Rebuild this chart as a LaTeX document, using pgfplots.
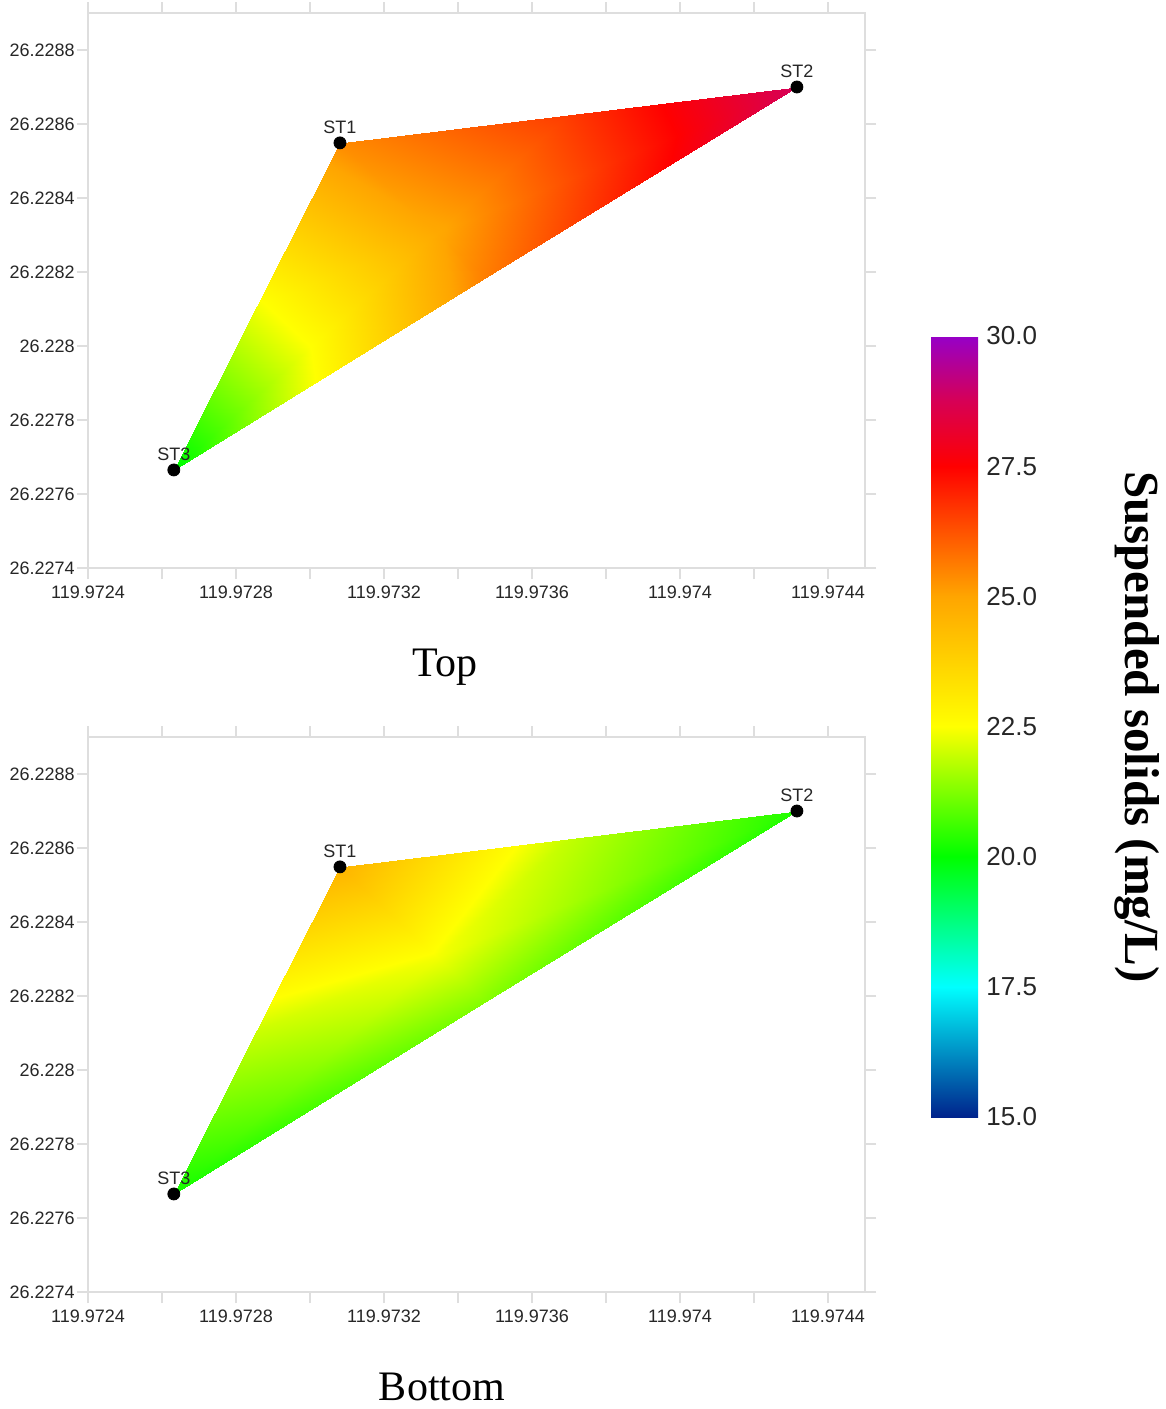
\documentclass[border=0pt]{standalone}
\usepackage{fontspec}
\setmainfont{Liberation Sans}
\newfontfamily\seriffam{Liberation Serif}
\usepackage{pgfplots}
\pgfplotsset{compat=1.18}
\definecolor{gridgray}{RGB}{222,222,222}
\pgfplotsset{
  colormap={ss}{rgb255(0cm)=(0,35,140); rgb255(2.5cm)=(0,255,255); rgb255(5cm)=(0,255,0); rgb255(7.5cm)=(255,255,0); rgb255(10cm)=(255,165,0); rgb255(12.5cm)=(255,0,0); rgb255(13.75cm)=(215,0,85); rgb255(15cm)=(150,0,200)},
  panel/.style={
    scale only axis, width=388.5pt, height=277.5pt,
    anchor=north west,
    colormap name=ss,
    point meta min=15, point meta max=30,
    % coordinates are offsets from (119.9724 E, 26.2274 N) in units of 0.0001 degree
    xmin=0, xmax=21, ymin=0, ymax=15,
    xtick={0,4,8,12,16,20},
    xticklabels={119.9724,119.9728,119.9732,119.9736,119.974,119.9744},
    minor xtick={2,6,10,14,18},
    ytick={0,2,4,6,8,10,12,14},
    yticklabels={26.2274,26.2276,26.2278,26.228,26.2282,26.2284,26.2286,26.2288},
    tick align=outside, major tick length=5.5pt, minor tick length=5.5pt,
    tick style={color=gridgray, line width=0.7pt},
    axis line style={gridgray, line width=0.7pt},
    tick label style={font=\fontsize{9}{10}\selectfont, text=black!85},
    yticklabel style={inner sep=1pt},
    /pgf/number format/assume math mode=true,
  },
  stations/.style={only marks, mark=*, mark size=3pt, black,
    point meta=explicit symbolic, nodes near coords,
    nodes near coords style={font=\fontsize{9}{10}\selectfont, text=black!85, anchor=south, inner sep=0pt, yshift=4.5pt}},
}
\begin{document}
\begin{tikzpicture}
\useasboundingbox (0,0) rectangle (583pt,-704.5pt);
% ---------------- Top ----------------
\begin{axis}[panel, at={(44pt,-6.5pt)},
  colorbar,
  colorbar/width=23.5pt,
  colorbar style={
    at={(parent axis.north east)}, anchor=north west,
    xshift=24.5pt, yshift=-161.5pt,
    height=390.5pt, scale only axis,
    ytick={15,17.5,20,22.5,25,27.5,30},
    yticklabels={15.0,17.5,20.0,22.5,25.0,27.5,30.0},
    major tick length=0pt, tick style={draw=none},
    axis line style={draw=none},
    yticklabel style={font=\fontsize{13}{14}\selectfont, text=black!85, inner sep=1pt, xshift=3pt},
  }]
\addplot[patch, shader=interp, point meta=explicit] coordinates {
 (6.81,11.49) [25.4]  (12.985,12.245) [26.6] (9.43,9.047) [24.9]
 (12.985,12.245) [26.6] (19.16,13.0) [28.8] (9.43,9.047) [24.9]
 (19.16,13.0) [28.8] (10.74,7.825) [25.6] (9.43,9.047) [24.9]
 (10.74,7.825) [25.6] (2.32,2.65) [19.9] (9.43,9.047) [24.9]
 (2.32,2.65) [19.9] (4.565,7.07) [22.4] (9.43,9.047) [24.9]
 (4.565,7.07) [22.4] (6.81,11.49) [25.4] (9.43,9.047) [24.9]
};
\addplot[stations] coordinates {(6.81,11.49)[ST1] (19.16,13.0)[ST2] (2.32,2.65)[ST3]};
\end{axis}
% ---------------- Bottom ----------------
\begin{axis}[panel, at={(44pt,-368.5pt)}]
\addplot[patch, shader=interp, point meta=explicit] coordinates {
 (6.81,11.49) [24.6]  (12.985,12.245) [21.9] (9.43,9.047) [22.4]
 (12.985,12.245) [21.9] (19.16,13.0) [20.3] (9.43,9.047) [22.4]
 (19.16,13.0) [20.3] (10.74,7.825) [21.3] (9.43,9.047) [22.4]
 (10.74,7.825) [21.3] (2.32,2.65) [20.2] (9.43,9.047) [22.4]
 (2.32,2.65) [20.2] (4.565,7.07) [22.0] (9.43,9.047) [22.4]
 (4.565,7.07) [22.0] (6.81,11.49) [24.6] (9.43,9.047) [22.4]
};
\addplot[stations] coordinates {(6.81,11.49)[ST1] (19.16,13.0)[ST2] (2.32,2.65)[ST3]};
\end{axis}
\node[inner sep=0pt, font=\seriffam\fontsize{21}{24}\selectfont] at (222.5pt,-333.5pt) {Top};
\node[inner sep=0pt, font=\seriffam\fontsize{21}{24}\selectfont] at (221pt,-693.5pt) {Bottom};
\node[inner sep=0pt, rotate=-90, font=\seriffam\bfseries\fontsize{24.5}{28}\selectfont] at (568.5pt,-363.5pt) {Suspended solids (mg/L)};
\end{tikzpicture}
\end{document}
